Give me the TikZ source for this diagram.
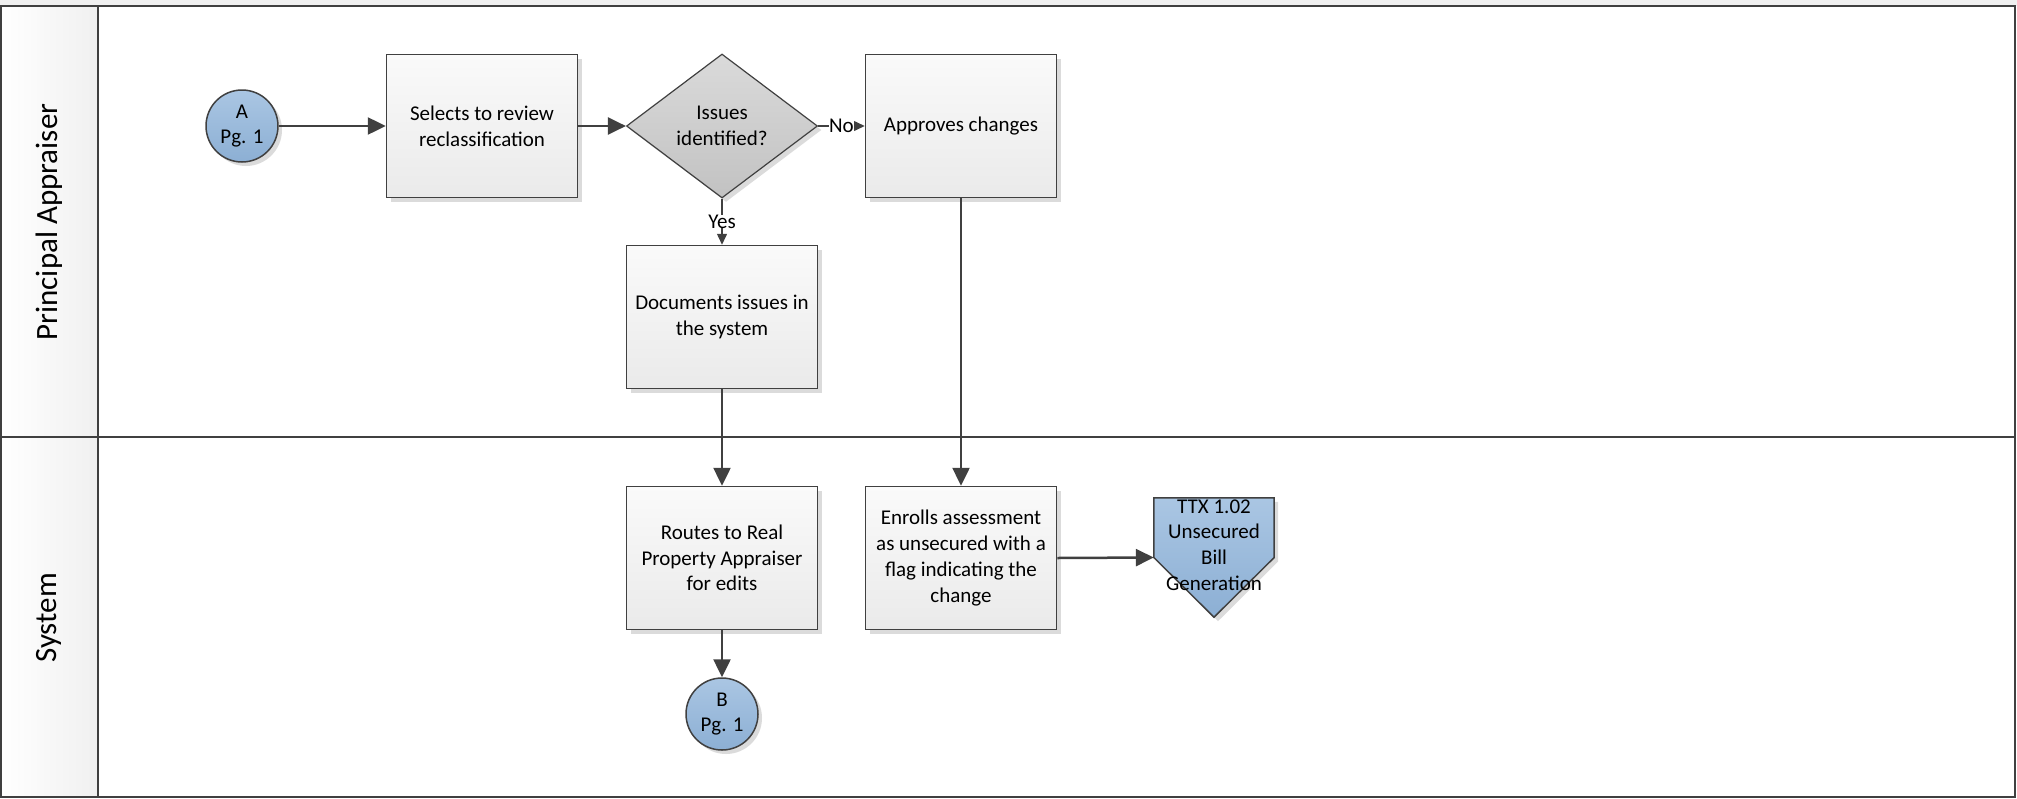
\documentclass[tikz,border=0pt]{standalone}
\usepackage{fontspec}
\setmainfont{Carlito}
\usetikzlibrary{shapes.geometric,arrows.meta,shadows}
\definecolor{ln}{HTML}{404040}
\definecolor{hdr}{HTML}{F0F0F0}
\definecolor{boxtop}{HTML}{FAFAFA}
\definecolor{boxbot}{HTML}{EAEAEA}
\definecolor{dtop}{HTML}{DADADA}
\definecolor{dbot}{HTML}{C2C2C2}
\definecolor{btop}{HTML}{AAC6E3}
\definecolor{bbot}{HTML}{8CAFD4}
\definecolor{shd}{HTML}{B0B0B0}
\tikzset{
  txt/.style={font=\fontsize{21}{25.7}\selectfont, align=center},
  procbox/.style={txt, draw=ln, line width=1.5pt, top color=boxtop, bottom color=boxbot,
    minimum width=191pt, minimum height=143pt, inner sep=0pt,
    drop shadow={shadow xshift=4pt, shadow yshift=-4pt, fill=shd, opacity=0.45}},
  decis/.style={txt, diamond, draw=ln, line width=1.2pt, top color=dtop, bottom color=dbot,
    minimum width=191pt, minimum height=144pt, inner sep=0pt,
    drop shadow={shadow xshift=4pt, shadow yshift=-4pt, fill=shd, opacity=0.45}},
  conn/.style={txt, circle, draw=ln, line width=1.5pt, top color=btop, bottom color=bbot,
    minimum size=72pt, inner sep=0pt,
    drop shadow={shadow xshift=4pt, shadow yshift=-4pt, fill=shd, opacity=0.45}},
  flow/.style={draw=ln, line width=2.5pt, -{Triangle[length=18pt,width=17pt]}},
  thinflow/.style={draw=ln, line width=1.5pt, -{Triangle[length=11pt,width=10pt]}},
  lbl/.style={txt, fill=white, inner sep=0pt},
  lanelbl/.style={font=\fontsize{31}{37}\selectfont, rotate=90},
  frame/.style={draw=ln, line width=2pt}
}
\begin{document}
\begin{tikzpicture}[x=1pt,y=-1pt]
\useasboundingbox (0,0) rectangle (2017,798);
% pool
\fill[hdr] (0,0) rectangle (2017,5.5);
\shade[left color=white, right color=hdr] (1,5.5) rectangle (98,797);
\draw[frame] (0,5.5) -- (2016,5.5);
\draw[frame] (1,5.5) -- (1,797) -- (2015,797) -- (2015,5.5);
\draw[frame] (1,437) -- (2015,437);
\draw[draw=ln, line width=2.5pt] (98,5.5) -- (98,797);
\node[lanelbl] (lane1) at (49,222) {Principal Appraiser};
\node[lanelbl] (lane2) at (49,618) {System};

% nodes
\node[conn] (a) at (242,126) {A\\Pg. 1};
\node[procbox] (sel) at (482,126) {Selects to review\\reclassification};
\node[decis] (dec) at (722,126) {Issues\\identified?};
\node[procbox] (appr) at (961,126) {Approves changes};
\node[procbox] (doc) at (722,317) {Documents issues in\\the system};
\node[procbox] (route) at (722,558) {Routes to Real\\Property Appraiser\\for edits};
\node[procbox] (enr) at (961,558) {Enrolls assessment\\as unsecured with a\\flag indicating the\\change};
\node[conn] (b) at (722,714) {B\\Pg. 1};

% off-page connector
\node[minimum width=120pt, minimum height=119pt, inner sep=0pt] (ttx) at (1214,557.5) {};
\fill[shd, opacity=0.45] ([shift={(4pt,-4pt)}]ttx.north west) -- ([shift={(4pt,-4pt)}]ttx.north east)
  -- ([shift={(4pt,-4pt)}]ttx.east) -- ([shift={(4pt,-4pt)}]ttx.south) -- ([shift={(4pt,-4pt)}]ttx.west) -- cycle;
\draw[draw=ln, line width=1.5pt, top color=btop, bottom color=bbot]
  (ttx.north west) -- (ttx.north east) -- (ttx.east) -- (ttx.south) -- (ttx.west) -- cycle;
\node[txt] (ttxt) at (1214,545) {TTX 1.02\\Unsecured\\Bill\\Generation};

% connectors
\draw[flow] (a) -- (sel);
\draw[flow] (sel) -- (dec);
\draw[thinflow] (dec.east) -- node[lbl] {No} (appr.west);
\draw[thinflow] (dec.south) -- node[lbl] {Yes} (doc.north);
\draw[flow] (doc) -- (route);
\draw[flow] (appr) -- (enr);
\draw[flow] (route) -- (b);
\draw[flow] (enr.east) -- (ttx.west);
\end{tikzpicture}
\end{document}
